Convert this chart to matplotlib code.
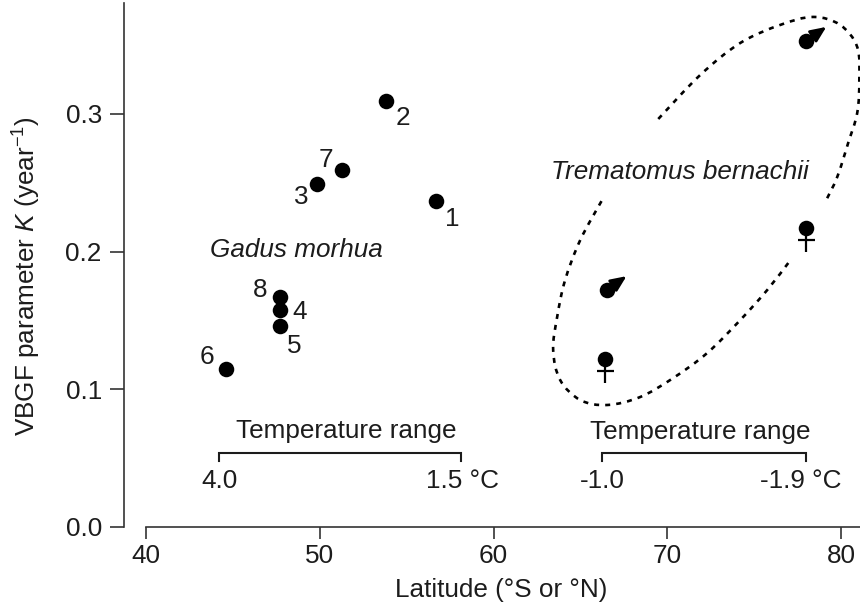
#!/usr/bin/env python3
"""VBGF growth parameter K against latitude for cod and an Antarctic notothenioid."""

import matplotlib

matplotlib.use("Agg")
import matplotlib.pyplot as plt
import numpy as np
from matplotlib.patches import PathPatch
from matplotlib.path import Path
from matplotlib.transforms import offset_copy

plt.rcParams.update({
    "font.family": ["Liberation Sans", "DejaVu Sans"],
    "font.size": 18.8,
    "mathtext.fontset": "custom",
    "mathtext.rm": "Liberation Sans",
    "mathtext.it": "Liberation Sans:italic",
    "mathtext.default": "regular",
    "text.color": "#1c1c1c",
})

INK = "#1c1c1c"

# Gadus morhua stocks
cod_ids = ["1", "2", "3", "4", "5", "6", "7", "8"]
cod_lat = [56.7, 53.8, 49.85, 47.7, 47.7, 44.6, 51.3, 47.7]
cod_k = [0.2367, 0.309, 0.249, 0.1575, 0.146, 0.115, 0.259, 0.167]
# label offset from its point, in pixels (x right, y up)
cod_dx = [16, 17, -16, 20, 14, -19, -16, -20]
cod_dy = [-18, -17, -13, -2, -20, 12, 10, 7]

# Trematomus bernachii
male_lat = [78.0, 66.5]
male_k = [0.353, 0.172]
female_lat = [78.0, 66.4]
female_k = [0.217, 0.122]

# dashed outline round the Trematomus points, with two gaps
upper_lat = [69.48, 71.89, 74.20, 76.50, 78.40, 79.95, 80.93, 81.05, 80.93, 80.41, 79.78, 79.09]
upper_k = [0.2963, 0.3282, 0.3515, 0.3646, 0.3704, 0.3646, 0.3486, 0.3246, 0.3007, 0.2789, 0.2542, 0.2360]
lower_lat = [76.96, 75.75, 74.20, 72.30, 70.34, 68.44, 66.54, 64.99, 63.83, 63.43, 63.66, 64.12, 64.99, 66.25]
lower_k = [0.1917, 0.1721, 0.1503, 0.1264, 0.1082, 0.0944, 0.0886, 0.0922, 0.1068, 0.1285, 0.1525, 0.1794, 0.2084, 0.2375]

x_ticks = [40, 50, 60, 70, 80]
y_ticks = [0.0, 0.1, 0.2, 0.3]


def smooth_path(xs, ys):
    """Catmull-Rom through the points, as cubic bezier segments."""
    p = np.column_stack([xs, ys])
    p = np.vstack([p[0], p, p[-1]])
    verts = [p[1]]
    codes = [Path.MOVETO]
    for i in range(1, len(p) - 2):
        verts += [p[i] + (p[i + 1] - p[i - 1]) / 6, p[i + 1] - (p[i + 2] - p[i]) / 6, p[i + 1]]
        codes += [Path.CURVE4] * 3
    return Path(verts, codes)


def px(n):
    return n * 0.72


def draw_range(ax, x0, x1, title, left, right, title_x, title_y, right_x):
    y_top, y_end = 0.0537, 0.048
    ax.plot([x0, x0, x1, x1], [y_end, y_top, y_top, y_end], color=INK, lw=1.5,
            solid_joinstyle="miter")
    ax.text(title_x, title_y, title, ha="center", va="center")
    ax.text(x0, 0.0335, left, ha="center", va="center")
    ax.text(right_x, 0.0335, right, ha="center", va="center")


fig = plt.figure(figsize=(8.6, 6.06), dpi=100)
ax = fig.add_axes([124 / 860, 79 / 606, 736 / 860, 527 / 606])
ax.set_xlim(38.73, 81.09)
ax.set_ylim(0, 0.3827)

for side in ("top", "right"):
    ax.spines[side].set_visible(False)
for side in ("left", "bottom"):
    ax.spines[side].set_linewidth(1.2)
    ax.spines[side].set_color("#333333")
ax.spines["left"].set_bounds(0, 0.3805)
ax.spines["bottom"].set_bounds(40, 81.09)

ax.set_xticks(x_ticks)
ax.set_yticks(y_ticks)
ax.set_yticklabels([f"{v:.1f}" for v in y_ticks])
ax.tick_params(axis="x", length=8.5, width=1.2, color="#333333", pad=4, labelcolor=INK)
ax.tick_params(axis="y", length=10, width=1.2, color="#333333", pad=6, labelcolor=INK)

fig.text(501 / 860, 1 - 590 / 606, "Latitude (°S or °N)", ha="center", va="center", color=INK)
fig.text(27 / 860, 1 - 276 / 606, "VBGF parameter $\\mathit{K}$ (year$^{-1}$)",
         rotation=90, ha="center", va="center", color=INK)

ax.scatter(cod_lat, cod_k, s=125, color="black", zorder=3, linewidths=0, clip_on=False)
for name, x, y, dx, dy in zip(cod_ids, cod_lat, cod_k, cod_dx, cod_dy):
    ax.annotate(name, (x, y), xytext=(px(dx), px(dy)), textcoords="offset points",
                ha="center", va="center")

ax.text(48.65, 0.2013, "Gadus morhua", style="italic", ha="center", va="center")
ax.text(70.75, 0.2578, "Trematomus bernachii", style="italic", ha="center", va="center")

ax.scatter(male_lat, male_k, s=125, color="black", zorder=3, linewidths=0, clip_on=False)
for x, y in zip(male_lat, male_k):
    ax.annotate("", (x, y), xytext=(px(20), px(14)), textcoords="offset points",
                arrowprops=dict(arrowstyle="<|-,head_length=0.5,head_width=0.22", color="black",
                                lw=2, shrinkA=0, shrinkB=0))

ax.scatter(female_lat, female_k, s=125, color="black", zorder=3, linewidths=0, clip_on=False)
stem_shift = offset_copy(ax.transData, fig, y=-12, units="dots")
ax.plot(female_lat, female_k, ls="none", marker="|", ms=px(24), mew=1.6, color="black",
        transform=stem_shift, clip_on=False, zorder=2)
ax.plot(female_lat, female_k, ls="none", marker="_", ms=px(17), mew=1.6, color="black",
        transform=stem_shift, clip_on=False, zorder=2)

for xs, ys in ((upper_lat, upper_k), (lower_lat, lower_k)):
    ax.add_patch(PathPatch(smooth_path(xs, ys), fill=False, ec="black", lw=1.9,
                           linestyle=(0, (1.9, 2.3)), clip_on=False))

draw_range(ax, 44.2, 58.1, "Temperature range", "4.0", "1.5 °C", 51.5, 0.0697, 58.2)
draw_range(ax, 66.25, 78.0, "Temperature range", "-1.0", "-1.9 °C", 71.9, 0.0690, 77.7)

fig.savefig("out.png", dpi=100)
